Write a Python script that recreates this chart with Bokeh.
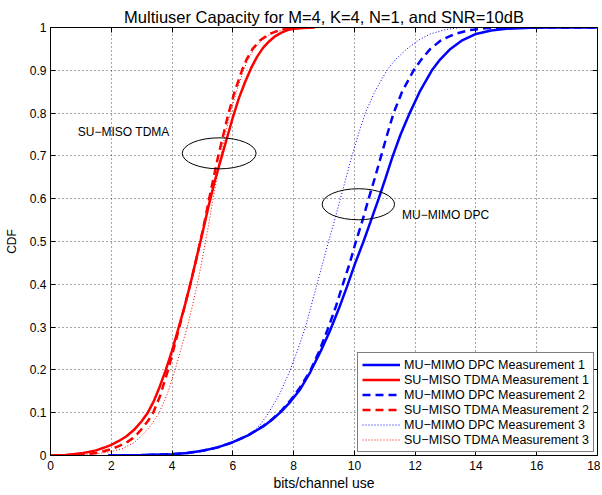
from bokeh.plotting import figure
from bokeh.models import (Range1d, LinearAxis, FixedTicker, CustomJSTickFormatter,
                          Legend, LegendItem, Label)
from bokeh.embed import file_html
from bokeh.resources import INLINE

FONT = "Liberation Sans"

# ---------------- data ----------------
title_text = "Multiuser Capacity for M=4, K=4, N=1, and SNR=10dB"
x_label = "bits/channel use"
y_label = "CDF"

x_ticks = [0, 2, 4, 6, 8, 10, 12, 14, 16, 18]
x_tick_labels = ["0", "2", "4", "6", "8", "10", "12", "14", "16", "18"]
y_ticks = [0, 0.1, 0.2, 0.3, 0.4, 0.5, 0.6, 0.7, 0.8, 0.9, 1.0]
y_tick_labels = ["0", "0.1", "0.2", "0.3", "0.4", "0.5", "0.6", "0.7", "0.8", "0.9", "1"]

# MU-MIMO DPC Measurement 1 (blue solid)
mu1_x = [1.9, 3.0, 4.0, 4.5, 5.0, 5.5, 6.0, 6.5, 7.0, 7.3, 7.6, 7.9, 8.2, 8.55, 8.9, 9.2, 9.5, 9.76,
         10.03, 10.3, 10.55, 10.8, 11.02, 11.25, 11.52, 11.82, 12.15, 12.55, 12.82, 13.16, 13.55,
         14.0, 14.5, 15.0, 15.8, 16.5, 18.0]
mu1_y = [0.0, 0.001, 0.003, 0.006, 0.011, 0.019, 0.031, 0.047, 0.068, 0.084, 0.103, 0.126, 0.153,
         0.195, 0.245, 0.292, 0.345, 0.395, 0.45, 0.5, 0.55, 0.6, 0.647, 0.697, 0.75, 0.8, 0.85,
         0.9, 0.925, 0.95, 0.97, 0.985, 0.993, 0.997, 0.9995, 1.0, 1.0]
# SU-MISO TDMA Measurement 1 (red solid)
su1_x = [0.0, 0.5, 0.75, 1.0, 1.25, 1.5, 1.75, 2.0, 2.25, 2.5, 2.75, 3.0, 3.2, 3.4, 3.6, 3.8, 4.0,
         4.2, 4.4, 4.6, 4.8, 5.0, 5.2, 5.4, 5.6, 5.8, 6.0, 6.2, 6.4, 6.6, 6.8, 7.0, 7.2, 7.4, 7.6,
         7.8, 8.0, 8.3, 8.7]
su1_y = [0.0, 0.001, 0.003, 0.005, 0.008, 0.012, 0.018, 0.025, 0.034, 0.045, 0.06, 0.08, 0.1,
         0.127, 0.162, 0.201, 0.245, 0.295, 0.345, 0.4, 0.46, 0.52, 0.582, 0.64, 0.69, 0.74, 0.79,
         0.835, 0.872, 0.905, 0.932, 0.953, 0.968, 0.98, 0.988, 0.994, 0.997, 0.999, 1.0]
# MU-MIMO DPC Measurement 2 (blue dashed)
mu2_x = [1.9, 3.0, 4.0, 4.5, 5.0, 5.5, 6.0, 6.5, 7.0, 7.3, 7.6, 7.9, 8.2, 8.55, 8.85, 9.15, 9.4,
         9.62, 9.85, 10.05, 10.27, 10.47, 10.68, 10.88, 11.08, 11.29, 11.57, 11.95, 12.2, 12.5,
         12.85, 13.3, 13.8, 14.3, 15.0, 18.0]
mu2_y = [0.0, 0.001, 0.003, 0.006, 0.011, 0.019, 0.031, 0.047, 0.069, 0.085, 0.105, 0.129, 0.158,
         0.198, 0.245, 0.3, 0.35, 0.4, 0.45, 0.5, 0.55, 0.6, 0.65, 0.7, 0.75, 0.8, 0.85, 0.9,
         0.925, 0.95, 0.97, 0.985, 0.994, 0.998, 1.0, 1.0]
# SU-MISO TDMA Measurement 2 (red dashed)
su2_x = [0.0, 0.5, 1.0, 1.5, 1.75, 2.0, 2.25, 2.5, 2.7, 2.85, 3.0, 3.2, 3.38, 3.6, 3.87, 4.05,
         4.24, 4.42, 4.6, 4.77, 4.93, 5.08, 5.22, 5.37, 5.52, 5.69, 5.86, 6.06, 6.3, 6.45, 6.65,
         6.9, 7.2, 7.6, 8.0, 8.6]
su2_y = [0.0, 0.0005, 0.002, 0.006, 0.01, 0.015, 0.022, 0.03, 0.04, 0.05, 0.062, 0.08, 0.1,
         0.138, 0.2, 0.248, 0.3, 0.35, 0.4, 0.45, 0.5, 0.55, 0.6, 0.65, 0.7, 0.75, 0.8, 0.85, 0.9,
         0.925, 0.95, 0.97, 0.985, 0.995, 0.999, 1.0]
# MU-MIMO DPC Measurement 3 (blue dotted)
mu3_x = [1.9, 3.0, 4.0, 4.5, 5.0, 5.5, 6.0, 6.3, 6.58, 6.9, 7.18, 7.55, 7.89, 8.15, 8.39, 8.58,
         8.77, 8.96, 9.15, 9.35, 9.54, 9.73, 9.92, 10.13, 10.36, 10.67, 11.07, 11.35, 11.73, 12.1,
         12.5, 13.0, 13.5, 18.0]
mu3_y = [0.0, 0.001, 0.003, 0.006, 0.011, 0.019, 0.032, 0.04, 0.05, 0.072, 0.1, 0.145, 0.2, 0.25,
         0.3, 0.35, 0.4, 0.45, 0.5, 0.55, 0.6, 0.65, 0.7, 0.75, 0.8, 0.85, 0.9, 0.925, 0.95, 0.97,
         0.985, 0.995, 1.0, 1.0]
# SU-MISO TDMA Measurement 3 (red dotted)
su3_x = [0.0, 0.5, 1.0, 1.5, 2.0, 2.4, 2.75, 3.05, 3.3, 3.58, 3.85, 4.1, 4.3, 4.5, 4.67, 4.83,
         4.97, 5.1, 5.23, 5.35, 5.48, 5.6, 5.75, 5.92, 6.12, 6.35, 6.5, 6.7, 6.95, 7.25, 7.65,
         8.0, 8.6]
su3_y = [0.0, 0.0003, 0.0015, 0.004, 0.009, 0.017, 0.03, 0.05, 0.07, 0.1, 0.145, 0.2, 0.25, 0.3,
         0.35, 0.4, 0.45, 0.5, 0.55, 0.6, 0.65, 0.7, 0.75, 0.8, 0.85, 0.9, 0.925, 0.95, 0.97,
         0.985, 0.995, 0.999, 1.0]

series_labels = ["MU\u2212MIMO DPC Measurement 1", "SU\u2212MISO TDMA Measurement 1",
                 "MU\u2212MIMO DPC Measurement 2", "SU\u2212MISO TDMA Measurement 2",
                 "MU\u2212MIMO DPC Measurement 3", "SU\u2212MISO TDMA Measurement 3"]

# annotation ellipses and texts (data coordinates)
ell_x = [5.55, 10.13]
ell_y = [0.706, 0.587]
ell_w = [2.43, 2.38]
ell_h = [0.0725, 0.0725]
ann_text = ["SU\u2212MISO TDMA", "MU\u2212MIMO DPC"]
ann_x = [0.9, 11.57]
ann_y = [0.757, 0.561]

# ---------------- figure ----------------
p = figure(width=600, height=493, output_backend="svg", toolbar_location=None,
           x_range=Range1d(0, 18), y_range=Range1d(0, 1),
           min_border_left=50, min_border_right=3, min_border_top=27, min_border_bottom=38,
           background_fill_color="white", border_fill_color="white")

p.title.text = title_text
p.title.align = "center"
p.title.vertical_align = "top"
p.title.text_font = FONT
p.title.text_font_size = "16.5px"
p.title.text_font_style = "normal"
p.title.text_color = "black"
p.title.standoff = 0
p.title.offset = 0

p.outline_line_color = "black"
p.outline_line_width = 1
p.outline_line_alpha = 1

xt = FixedTicker(ticks=x_ticks)
yt = FixedTicker(ticks=y_ticks)
xf = CustomJSTickFormatter(args=dict(labels=x_tick_labels), code="return labels[index];")
yf = CustomJSTickFormatter(args=dict(labels=y_tick_labels), code="return labels[index];")

def style_axis(ax, show_labels):
    ax.major_tick_in = 5
    ax.major_tick_out = 0
    ax.minor_tick_line_color = None
    ax.axis_line_color = "black"
    ax.major_tick_line_color = "black"
    ax.major_label_text_font = FONT
    ax.major_label_text_color = "black"
    ax.axis_label_text_font = FONT
    ax.axis_label_text_font_style = "normal"
    ax.axis_label_text_color = "black"
    if not show_labels:
        ax.major_label_text_font_size = "1px"
        ax.major_label_text_color = None
        ax.major_label_standoff = 0

xa = p.xaxis[0]
xa.ticker = xt
xa.formatter = xf
style_axis(xa, True)
xa.major_label_text_font_size = "12px"
xa.major_label_standoff = 5
xa.axis_label = x_label
xa.axis_label_text_font_size = "14px"
xa.axis_label_standoff = 2

ya = p.yaxis[0]
ya.ticker = yt
ya.formatter = yf
style_axis(ya, True)
ya.major_label_text_font_size = "12px"
ya.major_label_standoff = 4
ya.axis_label = y_label
ya.axis_label_text_font_size = "12px"
ya.axis_label_standoff = 8

top = LinearAxis(ticker=xt, formatter=xf)
style_axis(top, False)
p.add_layout(top, "above")
right = LinearAxis(ticker=yt, formatter=yf)
style_axis(right, False)
p.add_layout(right, "right")

p.xgrid.ticker = xt
p.ygrid.ticker = yt
p.grid.grid_line_color = "#222222"
p.grid.grid_line_dash = "1 3"
p.grid.grid_line_width = 1
p.grid.grid_line_alpha = 0.8

BLUE = "#0000ff"
RED = "#ff0000"
r1 = p.line(mu1_x, mu1_y, line_color=BLUE, line_width=2.5)
r2 = p.line(su1_x, su1_y, line_color=RED, line_width=2.5)
r3 = p.line(mu2_x, mu2_y, line_color=BLUE, line_width=2.5, line_dash="8 5")
r4 = p.line(su2_x, su2_y, line_color=RED, line_width=2.5, line_dash="8 5")
r5 = p.line(mu3_x, mu3_y, line_color=BLUE, line_width=1, line_dash="1 2")
r6 = p.line(su3_x, su3_y, line_color=RED, line_width=1, line_dash="1 2")

p.ellipse(x=ell_x, y=ell_y, width=ell_w, height=ell_h, fill_color=None,
          line_color="black", line_width=1)

for t, xx, yy in zip(ann_text, ann_x, ann_y):
    p.add_layout(Label(x=xx, y=yy, text=t, text_font=FONT, text_font_size="12px",
                       text_baseline="middle", text_align="left", text_color="black"))

items = [LegendItem(label=lab, renderers=[r]) for lab, r in
         zip(series_labels, [r1, r2, r3, r4, r5, r6])]
legend = Legend(items=items, location=(307, 3))
legend.label_text_font = FONT
legend.label_text_font_size = "12.5px"
legend.label_text_color = "black"
legend.glyph_width = 38
legend.glyph_height = 15
legend.label_height = 15
legend.label_width = 184
legend.label_standoff = 4
legend.spacing = 0
legend.padding = 4
legend.margin = 0
legend.border_line_color = "black"
legend.border_line_width = 1
legend.background_fill_color = "white"
legend.background_fill_alpha = 1
p.add_layout(legend)

open("out.html", "w").write(file_html(p, INLINE))
